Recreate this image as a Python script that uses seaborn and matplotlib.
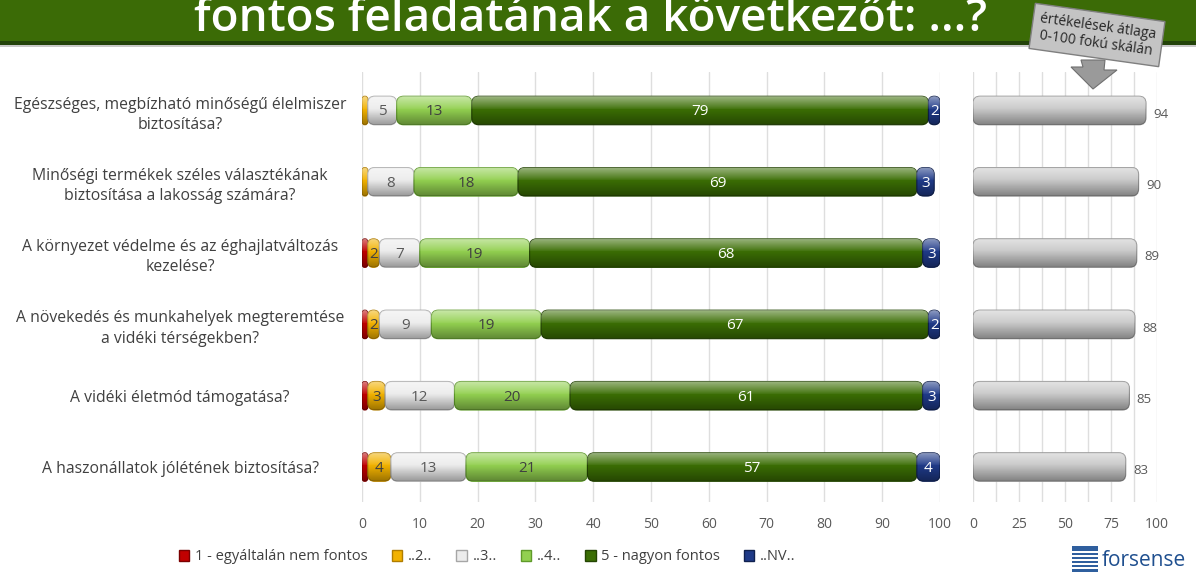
import numpy as np
import pandas as pd
import matplotlib
matplotlib.use("Agg")
import matplotlib.pyplot as plt
import seaborn as sns
from matplotlib.patches import FancyBboxPatch, Rectangle, Patch, Polygon

# adatok
questions = [
    "Egészséges, megbízható minőségű élelmiszer\nbiztosítása?",
    "Minőségi termékek széles választékának\nbiztosítása a lakosság számára?",
    "A környezet védelme és az éghajlatváltozás\nkezelése?",
    "A növekedés és munkahelyek megteremtése\na vidéki térségekben?",
    "A vidéki életmód támogatása?",
    "A haszonállatok jólétének biztosítása?",
]
series_names = ["1 - egyáltalán nem fontos", "..2..", "..3..", "..4..", "5 - nagyon fontos", "..NV.."]
ans1 = [0, 0, 1, 1, 1, 1]
ans2 = [1, 1, 2, 2, 3, 4]
ans3 = [5, 8, 7, 9, 12, 13]
ans4 = [13, 18, 19, 19, 20, 21]
ans5 = [79, 69, 68, 67, 61, 57]
ans_nv = [2, 3, 3, 2, 3, 4]
means = [94, 90, 89, 88, 85, 83]

colors = ["#c00000", "#f2b200", "#ececec", "#92d050", "#3b6e04", "#1f3a88"]
edge_colors = ["#7a0000", "#b07d00", "#a6a6a6", "#5f9a2a", "#244503", "#10214f"]
label_colors = ["#ffffff", "#404040", "#595959", "#404040", "#ffffff", "#ffffff"]

W, H = 1196, 572
fig = plt.figure(figsize=(W / 100, H / 100), dpi=100)
sns.set_style("white")
plt.rcParams["font.family"] = ["Open Sans", "DejaVu Sans"]

txt_col = "#404040"


def fx(px):
    return px / W


def fy(py):
    return 1 - py / H


ax = fig.add_axes([fx(362), fy(502), fx(940) - fx(362), fy(72) - fy(502)])
ax2 = fig.add_axes([fx(973), fy(502), fx(1157) - fx(973), fy(72) - fy(502)])

shade = np.zeros((40, 1, 4))
tt = np.linspace(0, 1, 40)
shade[:, 0, :3] = np.where(tt < 0.45, 1.0, 0.0)[:, None]
shade[:, 0, 3] = np.where(tt < 0.45, 0.45 * (1 - tt / 0.45) + 0.05, 0.35 * (tt - 0.45) / 0.55)


def round_bars(axis, bars, px_x, px_y, radius_px=7):
    aspect = px_x / px_y
    out = []
    for b in bars:
        x, y, w, h = b.get_x(), b.get_y(), b.get_width(), b.get_height()
        fc, ec = b.get_facecolor(), b.get_edgecolor()
        b.remove()
        if w <= 0:
            continue
        r = min(radius_px / px_x, w / 2, h / 2 / aspect)
        p = FancyBboxPatch((x, y), w, h, boxstyle=f"round,pad=0,rounding_size={r}",
                           mutation_aspect=aspect, facecolor=fc, edgecolor=ec, lw=0.8, zorder=3)
        axis.add_patch(p)
        im = axis.imshow(shade, extent=[x, x + w, y + h, y], aspect="auto", zorder=4,
                         interpolation="bilinear")
        im.set_clip_path(p)
        out.append(p)
    return out


# bal oldali halmozott sávok
df = pd.DataFrame({"q": questions, "a1": ans1, "a2": ans2, "a3": ans3,
                   "a4": ans4, "a5": ans5, "nv": ans_nv})
cols = ["a1", "a2", "a3", "a4", "a5", "nv"]
ypos = np.arange(len(questions))
left = np.zeros(len(questions))
px_x = 578 / 100
px_y = 430 / 6.03
for i, c in enumerate(cols):
    vals = df[c].values
    bars = ax.barh(ypos, vals, left=left, height=0.4, color=colors[i],
                   edgecolor=edge_colors[i], label=series_names[i])
    round_bars(ax, list(bars), px_x, px_y)
    for y, l, v in zip(ypos, left, vals):
        if v >= 2:
            ax.text(l + v / 2, y + 0.02, f"{v}", ha="center", va="center",
                    color=label_colors[i], fontsize=11, zorder=5)
    left += vals

ax.set_xlim(0, 100)
ax.set_ylim(5.49, -0.54)
ax.set_xticks(range(0, 101, 10))
ax.set_yticks(ypos)
ax.set_yticklabels(questions, fontsize=11.3, color=txt_col, linespacing=1.35,
                   ha="center", multialignment="center")
ax.tick_params(axis="y", length=0, pad=131)
ax.tick_params(axis="x", length=0, pad=11, labelsize=10, labelcolor="#595959")
ax.grid(axis="x", color="#dedede", lw=1)
ax.set_axisbelow(True)
sns.despine(ax=ax, left=True, bottom=True)

# jobb oldali átlag panel
mdf = pd.DataFrame({"q": questions, "mean": means})
sns.barplot(data=mdf, x="mean", y="q", ax=ax2, color="#c8c8c8", width=0.4,
            edgecolor="#8c8c8c", saturation=1)
round_bars(ax2, list(ax2.patches), 184 / 100, px_y)
for y, v in zip(ypos, means):
    ax2.text(v + 4, y + 0.05, f"{v}", ha="left", va="center", color="#595959", fontsize=9.5)
ax2.set_xlim(0, 100)
ax2.set_ylim(5.49, -0.54)
ax2.set_xticks([0, 25, 50, 75, 100])
ax2.set_xticks(np.arange(12.5, 100, 25), minor=True)
ax2.set_yticks([])
ax2.set_ylabel("")
ax2.set_xlabel("")
ax2.tick_params(axis="x", which="both", length=0, pad=11, labelsize=10, labelcolor="#595959")
ax2.grid(axis="x", which="both", color="#dedede", lw=1)
ax2.set_axisbelow(True)
sns.despine(ax=ax2, left=True, bottom=True)

# cím sáv
fig.patches.append(Rectangle((0, fy(41)), 1, fy(0) - fy(41), transform=fig.transFigure,
                             facecolor="#3b6b06", edgecolor="none", zorder=0))
fig.patches.append(Rectangle((0, fy(45)), 1, fy(41) - fy(45), transform=fig.transFigure,
                             facecolor="#23430a", edgecolor="none", zorder=0))
fig.patches.append(Rectangle((0, fy(47)), 1, fy(45) - fy(47), transform=fig.transFigure,
                             facecolor="#c9c9c9", edgecolor="none", zorder=0))
fig.text(fx(590), fy(31), "fontos feladatának a következőt: ...?", ha="center", va="baseline",
         color="white", fontsize=33, fontweight="semibold")

# felirat doboz nyíllal
arrow = Polygon([[fx(1081), fy(60)], [fx(1105), fy(60)], [fx(1104), fy(70)], [fx(1117), fy(70)],
                 [fx(1093), fy(89)], [fx(1071), fy(67)], [fx(1083), fy(67)]],
                closed=True, transform=fig.transFigure, facecolor="#9a9a9a",
                edgecolor="#707070", lw=0.8, zorder=5)
fig.patches.append(arrow)
fig.text(fx(1097), fy(35), "értékelések átlaga\n0-100 fokú skálán", ha="center", va="center",
         rotation=-8, fontsize=10, color="#262626", linespacing=1.15, zorder=6,
         bbox=dict(boxstyle="square,pad=0.5", facecolor="#c4c4c4", edgecolor="#7f7f7f", lw=1))

# jelmagyarázat
handles = [Patch(facecolor=colors[i], edgecolor=edge_colors[i], label=series_names[i])
           for i in range(6)]
fig.legend(handles=handles, loc="center left", bbox_to_anchor=(fx(166), fy(557)), ncol=6,
           frameon=False, fontsize=10.5, handlelength=0.7, handleheight=0.7, handletextpad=0.4,
           columnspacing=1.65, labelcolor=txt_col)

# logó
fig.patches.append(Rectangle((fx(1072), fy(572)), fx(26), fy(546) - fy(572),
                             transform=fig.transFigure, facecolor="#2f5f9e", edgecolor="none"))
for k in range(5):
    fig.patches.append(Rectangle((fx(1072), fy(553 + k * 4)), fx(26), fy(551) - fy(553),
                                 transform=fig.transFigure, facecolor="white", edgecolor="none"))
fig.text(fx(1102), fy(561), "forsense", ha="left", va="center", fontsize=15, color="#1f4f8f")

fig.savefig("out.png", dpi=100)
